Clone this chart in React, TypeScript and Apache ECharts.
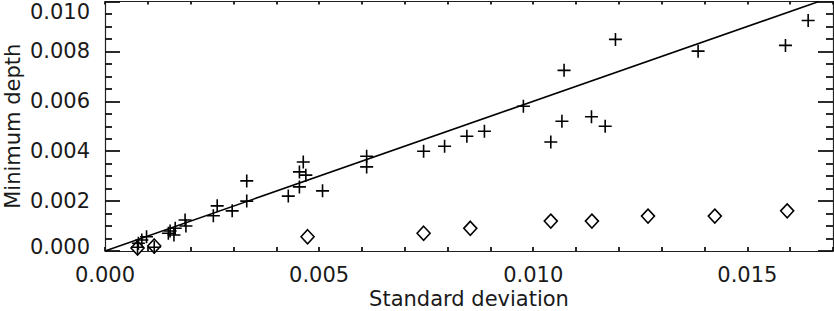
import React, { useEffect, useRef } from "react";
import * as echarts from "echarts";

const plusX = [0.00076, 0.00078, 0.00086, 0.00097, 0.00115, 0.00148, 0.00152, 0.00161, 0.00164, 0.00187, 0.00189, 0.00253, 0.00262, 0.00297, 0.00331, 0.00331, 0.00428, 0.00454, 0.00454, 0.00463, 0.00469, 0.00508, 0.00611, 0.00611, 0.00744, 0.00793, 0.00845, 0.00886, 0.00977, 0.01041, 0.01067, 0.01072, 0.01136, 0.01168, 0.01192, 0.01385, 0.01589, 0.01642];
const plusY = [0.00015, 0.00031, 0.00044, 0.00057, 0.00015, 0.00071, 0.0008, 0.00064, 0.00091, 0.00124, 0.001, 0.00141, 0.00181, 0.00161, 0.00281, 0.002, 0.0022, 0.00257, 0.00317, 0.00357, 0.00304, 0.00241, 0.0038, 0.00337, 0.004, 0.0042, 0.0046, 0.0048, 0.0058, 0.00437, 0.0052, 0.00724, 0.00538, 0.005, 0.00848, 0.00801, 0.00824, 0.00924];

const diamondX = [0.00076, 0.00115, 0.00473, 0.00744, 0.00853, 0.01041, 0.01137, 0.01268, 0.01424, 0.01593];
const diamondY = [0.00012, 0.0002, 0.00057, 0.00071, 0.00091, 0.0012, 0.0012, 0.0014, 0.0014, 0.00161];

const fitX = [0, 0.01667];
const fitY = [0, 0.01];

const xTicks = [0, 0.005, 0.01, 0.015];
const yTicks = [0, 0.002, 0.004, 0.006, 0.008, 0.01];

const FONT = "DejaVu Sans";
const AXIS_COLOR = "#222";
const TICK_COLOR = "rgb(20,20,20)";
const TEXT_COLOR = "#1a1a1a";

export default function App() {
  const ref = useRef<HTMLDivElement>(null);
  useEffect(() => {
    if (!ref.current) return;
    const chart = echarts.init(ref.current, undefined, { renderer: "svg" });
    const mkAxisLine = () => ({ show: true, onZero: false, lineStyle: { color: AXIS_COLOR, width: 1.2 } });
    const xTick = (len: number) => ({ show: true, inside: true, length: len, lineStyle: { color: TICK_COLOR, width: 1.8 } });
    const xMinor = (len: number) => ({ show: true, splitNumber: 5, length: len, lineStyle: { color: TICK_COLOR, width: 1.8 } });
    const yTick = () => ({ show: true, inside: true, length: 15, lineStyle: { color: TICK_COLOR, width: 1.8 } });
    const yMinor = () => ({ show: true, splitNumber: 4, length: 7, lineStyle: { color: TICK_COLOR, width: 1.8 } });
    chart.setOption({
      animation: false,
      backgroundColor: "#fff",
      grid: { left: 105, right: 1, top: 1.5, bottom: 60, containLabel: false, outerBoundsMode: "none" },
      xAxis: [
        {
          type: "value",
          min: 0,
          max: 0.017,
          interval: xTicks[1] - xTicks[0],
          position: "bottom",
          splitLine: { show: false },
          axisLine: mkAxisLine(),
          axisTick: xTick(4),
          minorTick: xMinor(4),
          name: "Standard deviation",
          nameLocation: "middle",
          nameGap: 37,
          nameMoveOverlap: false,
          nameTextStyle: { fontFamily: FONT, fontSize: 21, color: TEXT_COLOR },
          axisLabel: {
            show: true,
            margin: 13,
            showMaxLabel: false,
            hideOverlap: false,
            fontFamily: FONT,
            fontSize: 21,
            color: TEXT_COLOR,
            formatter: (v: number) => (xTicks.some((t) => Math.abs(t - v) < 1e-9) ? v.toFixed(3) : ""),
          },
        },
        {
          type: "value",
          min: 0,
          max: 0.017,
          interval: xTicks[1] - xTicks[0],
          position: "top",
          splitLine: { show: false },
          axisLine: mkAxisLine(),
          axisTick: xTick(3),
          minorTick: xMinor(3),
          axisLabel: { show: false },
        },
      ],
      yAxis: [
        {
          type: "value",
          min: 0,
          max: 0.01,
          interval: yTicks[1] - yTicks[0],
          position: "left",
          splitLine: { show: false },
          axisLine: mkAxisLine(),
          axisTick: yTick(),
          minorTick: yMinor(),
          name: "Minimum depth",
          nameLocation: "middle",
          nameGap: 82,
          nameMoveOverlap: false,
          nameTextStyle: { fontFamily: FONT, fontSize: 21, color: TEXT_COLOR },
          axisLabel: {
            show: true,
            margin: 15,
            showMinLabel: true,
            showMaxLabel: true,
            hideOverlap: false,
            fontFamily: FONT,
            fontSize: 21,
            color: TEXT_COLOR,
            formatter: (v: number) => {
              const s = v.toFixed(3);
              if (Math.abs(v - yTicks[yTicks.length - 1]) < 1e-9) return "{top|" + s + "}";
              if (Math.abs(v - yTicks[0]) < 1e-9) return "{bot|" + s + "}";
              return s;
            },
            rich: {
              top: { fontFamily: FONT, fontSize: 21, color: TEXT_COLOR, padding: [21, 0, 0, 0] },
              bot: { fontFamily: FONT, fontSize: 21, color: TEXT_COLOR, padding: [0, 0, 8, 0] },
            },
          },
        },
        {
          type: "value",
          min: 0,
          max: 0.01,
          interval: yTicks[1] - yTicks[0],
          position: "right",
          splitLine: { show: false },
          axisLine: mkAxisLine(),
          axisTick: yTick(),
          minorTick: yMinor(),
          axisLabel: { show: false },
        },
      ],
      series: [
        {
          type: "scatter",
          xAxisIndex: 0,
          yAxisIndex: 0,
          data: diamondX.map((x, i) => [x, diamondY[i]]),
          symbol: "diamond",
          symbolSize: [13, 14],
          itemStyle: { color: "#fff", borderColor: "#000", borderWidth: 1.6, opacity: 1 },
          z: 2,
        },
        {
          type: "line",
          xAxisIndex: 0,
          yAxisIndex: 0,
          data: fitX.map((x, i) => [x, fitY[i]]),
          showSymbol: false,
          symbol: "none",
          lineStyle: { color: "#000", width: 1.6 },
          z: 3,
        },
        {
          type: "scatter",
          xAxisIndex: 0,
          yAxisIndex: 0,
          data: plusX.map((x, i) => [x, plusY[i]]),
          symbol: "path://M6,0 L6,12 M0,6 L12,6",
          symbolSize: 13,
          itemStyle: { color: "none", borderColor: "#000", borderWidth: 1.6, opacity: 1 },
          z: 4,
        },
      ],
    });
    return () => chart.dispose();
  }, []);
  return <div ref={ref} style={{ position: "fixed", left: 0, top: 0, width: 834, height: 311 }} />;
}
